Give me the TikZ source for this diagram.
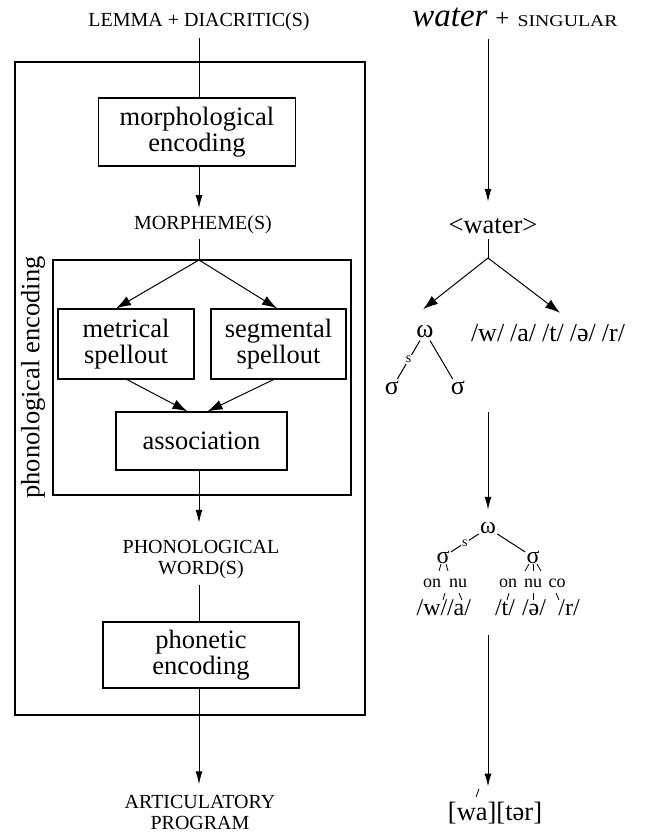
\documentclass[tikz,border=0pt]{standalone}
\usepackage{fontspec}
\setmainfont{Liberation Serif}
\usetikzlibrary{arrows.meta,calc}
\newcommand\bxf{\fontsize{26.5}{26}\selectfont}
\newcommand\cpf{\fontsize{20}{21}\selectfont}
\begin{document}
\begin{tikzpicture}[x=1pt,y=-1pt,
  line width=1pt,
  procbox/.style={draw, line width=1.2pt, align=center, font=\bxf, inner sep=0pt},
  framebox/.style={draw, line width=1.2pt, inner sep=0pt},
  caplabel/.style={align=center, font=\cpf, inner sep=0pt},
  varr/.style={-{Latex[length=13pt,width=7pt]}},
  barr/.style={-{Latex[length=15pt,width=10pt]}},
  sym/.style={inner sep=0pt, font=\fontsize{26}{26}\selectfont},
  symb/.style={inner sep=0pt, font=\fontsize{24}{24}\selectfont},
  cv/.style={inner sep=0pt, font=\fontsize{18}{18}\selectfont},
  slab/.style={fill=white, inner sep=1pt, font=\fontsize{14}{14}\selectfont},
  tick/.style={line width=0.8pt}
]
\useasboundingbox (0,0) rectangle (646,832);

% ---------------- left column ----------------
\node[caplabel, anchor=base] (lemma) at (199,27) {LEMMA + DIACRITIC(S)};
\node[framebox, minimum width=350pt, minimum height=653pt] (outer) at (190,388.5) {};
\node[procbox, minimum width=197pt, minimum height=68pt] (morph) at (197,132) {morphological\\encoding};
\node[caplabel, anchor=base] (morphemes) at (203,229.5) {MORPHEME(S)};
\node[framebox, minimum width=298pt, minimum height=235pt] (inner) at (202,377.5) {};
\node[rotate=90, font=\bxf, inner sep=0pt] (phonlabel) at (33,377.5) {phonological encoding};
\node[procbox, minimum width=136pt, minimum height=70pt] (met) at (126,344) {metrical\\spellout};
\node[procbox, minimum width=135pt, minimum height=70pt] (seg) at (278.5,344) {segmental\\spellout};
\node[procbox, minimum width=171pt, minimum height=58pt] (assoc) at (201.5,441) {association};
\node[caplabel] (phonword) at (201,559.5) {PHONOLOGICAL\\WORD(S)};
\node[procbox, minimum width=196pt, minimum height=66pt] (phonetic) at (201,655) {phonetic\\encoding};
\node[caplabel] (artic) at (200,812) {ARTICULATORY\\PROGRAM};

\coordinate (split) at (199,260);
\draw ([yshift=-6pt]lemma.south -| split) -- (morph.north -| split);
\draw[varr] (morph.south -| split) -- ([yshift=7pt]morphemes.north -| split);
\draw ([yshift=-5pt]morphemes.south -| split) -- (split);
\draw[barr] (split) -- ($(met.north)+(-10,0)$);
\draw[barr] (split) -- ($(seg.north)+(-1.5,0)$);
\draw[barr] ($(met.south)+(1,0)$) -- ($(assoc.north)+(-14,0)$);
\draw[barr] ($(seg.south)+(-5,0)$) -- ($(assoc.north)+(6,0)$);
\draw[varr] (assoc.south -| split) -- ([yshift=17pt]phonword.north -| split);
\draw ([yshift=-6pt]phonword.south -| split) -- (phonetic.north -| split);
\draw[varr] (phonetic.south -| split) -- ([yshift=10pt]artic.north -| split);

% ---------------- right column ----------------
\node[anchor=base, inner sep=0pt] (wlabel) at (515,27)
  {{\fontsize{33}{33}\selectfont\itshape water}\hspace{8pt}{\fontsize{25}{25}\selectfont +}\hspace{8pt}{\fontsize{16.5}{16}\selectfont\scalebox{1.2}[1]{SINGULAR}}};
\coordinate (wtop) at (488,39);
\node[inner sep=0pt, font=\bxf, anchor=base] (wat) at (493,233) {<water>};
\draw[varr] (wtop) -- ([yshift=15.5pt]wat.north -| wtop);
\coordinate (apex) at (488,258);
\draw ([yshift=-5pt]wat.south -| apex) -- (apex);

% first tree
\node[sym] (om1) at (425,332) {ω};
\node[sym] (sl1) at (392,388) {σ};
\node[sym] (sr1) at (458,388) {σ};
\node[sym] (phs) at (548,333) {/w/\hspace{6pt}/a/\hspace{6pt}/t/\hspace{6pt}/ə/\hspace{6pt}/r/};
\draw[barr] (apex) -- ($(om1.north)+(-2,-16)$);
\draw[barr] (apex) -- ($(phs.north)+(12,-11)$);
\draw[shorten <=2pt, shorten >=2pt] (om1) -- node[slab] {s} (sl1);
\draw[shorten <=2pt, shorten >=2pt] (om1) -- (sr1);

% second tree
\coordinate (v2top) at (488,412);
\node[symb] (om2) at (488,528) {ω};
\node[symb] (sl2) at (443,557) {σ};
\node[symb] (sr2) at (533,557) {σ};
\draw[varr] (v2top) -- ([yshift=12pt]om2.north -| v2top);
\draw[shorten <=1pt, shorten >=1pt] (om2) -- node[slab] {s} (sl2);
\draw[shorten <=1pt, shorten >=1pt] (om2) -- (sr2);

\node[cv] (on1) at (432,583) {on};
\node[cv] (nu1) at (458,583) {nu};
\node[cv] (on2) at (508,583) {on};
\node[cv] (nu2) at (533,583) {nu};
\node[cv] (co2) at (557,583) {co};

\node[symb] (p1) at (432,608) {/w/};
\node[symb] (p2) at (459,608) {/a/};
\node[symb] (p3) at (505,608) {/t/};
\node[symb] (p4) at (534,608) {/ə/};
\node[symb] (p5) at (569,608) {/r/};

\draw[tick] (441,564) -- (439,571);
\draw[tick] (446,564) -- (448,571);
\draw[tick] (529,564) -- (525,571);
\draw[tick] (533,564) -- (533,571);
\draw[tick] (537,564) -- (541,571);

\draw[tick] (445,593) -- (443,600);
\draw[tick] (459,593) -- (462,600);
\draw[tick] (509,593) -- (507,600);
\draw[tick] (533,593) -- (533,600);
\draw[tick] (556,593) -- (559,600);

% output
\coordinate (v3top) at (488,635);
\node[inner sep=0pt, font=\bxf] (wt) at (495,813) {[wa][tər]};
\draw[varr] (v3top) -- ([yshift=15pt]wt.north -| v3top);
\draw[tick] (476,797) -- (479,789);
\end{tikzpicture}
\end{document}
